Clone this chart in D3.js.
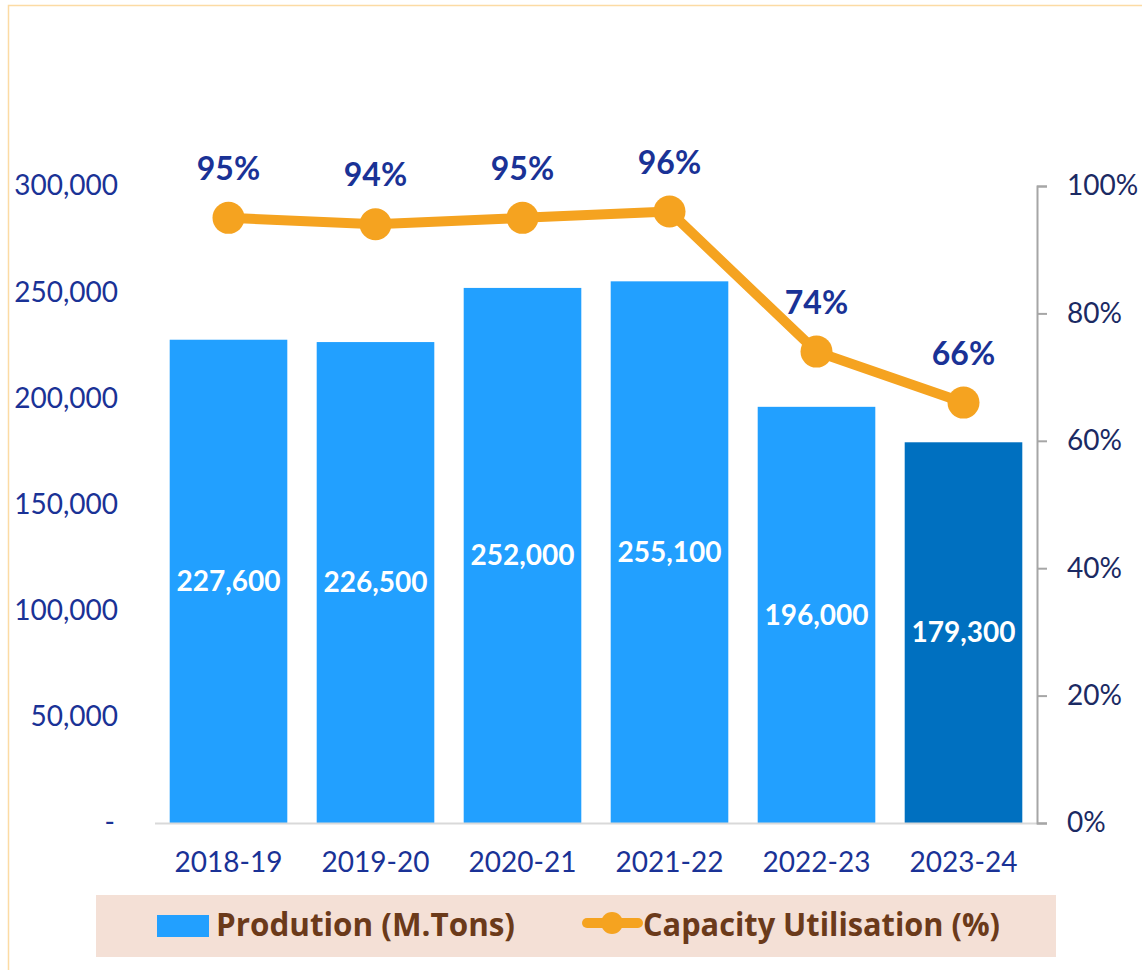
<!DOCTYPE html>
<html>
<head>
<meta charset="utf-8">
<script src="https://cdn.jsdelivr.net/npm/d3@7"></script>
<style>
  body { margin: 0; background: #fff; }
  svg { display: block; font-family: Lato, "Open Sans", sans-serif; }
</style>
</head>
<body>
<div id="chart"></div>
<script>
// data
var years = ["2018-19", "2019-20", "2020-21", "2021-22", "2022-23", "2023-24"];
var production = [227600, 226500, 252000, 255100, 196000, 179300];
var utilisation = [95, 94, 95, 96, 74, 66];
var leftTicks = [0, 50000, 100000, 150000, 200000, 250000, 300000];
var rightTicks = [0, 20, 40, 60, 80, 100];

var W = 1142, H = 970;
var plot = {left: 155, right: 1037, top: 186, bottom: 823};

var svg = d3.select("#chart").append("svg")
    .attr("width", W)
    .attr("height", H);

// outer frame
svg.append("rect")
    .attr("x", 8.5).attr("y", 5.5)
    .attr("width", W).attr("height", H)
    .attr("fill", "none")
    .attr("stroke", "#fcdba4")
    .attr("stroke-width", 1.5);

var x = d3.scaleBand()
    .domain(years)
    .range([plot.left, plot.right])
    .paddingInner(0.2)
    .paddingOuter(0.1);

var y = d3.scaleLinear()
    .domain([0, 300000])
    .range([plot.bottom, plot.top]);

var y2 = d3.scaleLinear()
    .domain([0, 100])
    .range([plot.bottom, plot.top]);

// bars
svg.selectAll("rect.bar")
    .data(production)
    .enter().append("rect")
    .attr("class", "bar")
    .attr("x", (d, i) => x(years[i]))
    .attr("y", d => y(d))
    .attr("width", x.bandwidth())
    .attr("height", d => y(0) - y(d))
    .attr("fill", (d, i) => i === years.length - 1 ? "#0070c0" : "#22a0ff");

// bar labels
svg.selectAll("text.barlabel")
    .data(production)
    .enter().append("text")
    .attr("class", "barlabel")
    .attr("x", (d, i) => x(years[i]) + x.bandwidth() / 2)
    .attr("y", d => (y(d) + y(0)) / 2)
    .attr("dy", "0.35em")
    .attr("text-anchor", "middle")
    .attr("fill", "#fff")
    .attr("font-weight", "bold")
    .attr("font-size", 28)
    .text(d => d3.format(",")(d));

// baseline
svg.append("line")
    .attr("x1", plot.left).attr("x2", plot.right + 10)
    .attr("y1", plot.bottom + 0.5).attr("y2", plot.bottom + 0.5)
    .attr("stroke", "#d9d9d9")
    .attr("stroke-width", 2);

// left axis (labels only)
var leftAxis = svg.append("g")
    .attr("transform", "translate(118,0)")
    .call(d3.axisLeft(y)
        .tickValues(leftTicks)
        .tickSize(0)
        .tickPadding(0)
        .tickFormat(d => d === 0 ? "-" : d3.format(",")(d)));
leftAxis.select(".domain").remove();
leftAxis.selectAll("text")
    .attr("fill", "#1a3296")
    .attr("font-size", 28)
    .attr("font-family", "Lato, sans-serif")
    .attr("dy", "0.32em");
leftAxis.selectAll(".tick text").filter(d => d === 0).attr("dx", -3);

// right axis
var rightAxis = svg.append("g")
    .attr("transform", "translate(" + plot.right + ",0)")
    .call(d3.axisRight(y2)
        .tickValues(rightTicks)
        .tickSize(10)
        .tickSizeOuter(10)
        .tickPadding(20)
        .tickFormat(d => d + "%"));
rightAxis.select(".domain").attr("stroke", "#a6a6a6").attr("stroke-width", 2);
rightAxis.selectAll("line").attr("stroke", "#a6a6a6").attr("stroke-width", 2);
rightAxis.selectAll("text")
    .attr("fill", "#1b2a63")
    .attr("font-size", 28)
    .attr("font-family", "Lato, sans-serif")
    .attr("dy", "0.32em");

// category labels
svg.selectAll("text.cat")
    .data(years)
    .enter().append("text")
    .attr("class", "cat")
    .attr("x", d => x(d) + x.bandwidth() / 2)
    .attr("y", 862)
    .attr("dy", "0.35em")
    .attr("text-anchor", "middle")
    .attr("fill", "#1a3296")
    .attr("font-size", 28)
    .text(d => d);

// utilisation line
var line = d3.line()
    .x((d, i) => x(years[i]) + x.bandwidth() / 2)
    .y(d => y2(d));

svg.append("path")
    .datum(utilisation)
    .attr("fill", "none")
    .attr("stroke", "#f5a320")
    .attr("stroke-width", 10)
    .attr("stroke-linejoin", "round")
    .attr("d", line);

svg.selectAll("circle.pt")
    .data(utilisation)
    .enter().append("circle")
    .attr("class", "pt")
    .attr("cx", (d, i) => x(years[i]) + x.bandwidth() / 2)
    .attr("cy", d => y2(d))
    .attr("r", 16)
    .attr("fill", "#f5a320");

svg.selectAll("text.pct")
    .data(utilisation)
    .enter().append("text")
    .attr("class", "pct")
    .attr("x", (d, i) => x(years[i]) + x.bandwidth() / 2)
    .attr("y", d => y2(d) - 49)
    .attr("dy", "0.35em")
    .attr("text-anchor", "middle")
    .attr("fill", "#1a3296")
    .attr("font-weight", "bold")
    .attr("font-size", 32)
    .text(d => d + "%");

// legend
var legend = svg.append("g")
    .attr("font-family", "'Open Sans', sans-serif");
legend.append("rect")
    .attr("x", 96).attr("y", 895)
    .attr("width", 960).attr("height", 62)
    .attr("fill", "#f4e0d6");
legend.append("rect")
    .attr("x", 157).attr("y", 915)
    .attr("width", 52).attr("height", 22)
    .attr("fill", "#22a0ff");
legend.append("text")
    .attr("x", 216).attr("y", 925)
    .attr("dy", "0.35em")
    .attr("fill", "#6b3a1a")
    .attr("font-weight", "bold")
    .attr("font-size", 32)
    .attr("textLength", 299)
    .attr("lengthAdjust", "spacingAndGlyphs")
    .text("Prodution (M.Tons)");
legend.append("line")
    .attr("x1", 587).attr("x2", 638)
    .attr("y1", 923).attr("y2", 923)
    .attr("stroke", "#f5a320")
    .attr("stroke-width", 10)
    .attr("stroke-linecap", "round");
legend.append("circle")
    .attr("cx", 612).attr("cy", 923)
    .attr("r", 11)
    .attr("fill", "#f5a320");
legend.append("text")
    .attr("x", 643).attr("y", 925)
    .attr("dy", "0.35em")
    .attr("fill", "#6b3a1a")
    .attr("font-weight", "bold")
    .attr("font-size", 32)
    .attr("textLength", 357)
    .attr("lengthAdjust", "spacingAndGlyphs")
    .text("Capacity Utilisation (%)");
</script>
</body>
</html>
